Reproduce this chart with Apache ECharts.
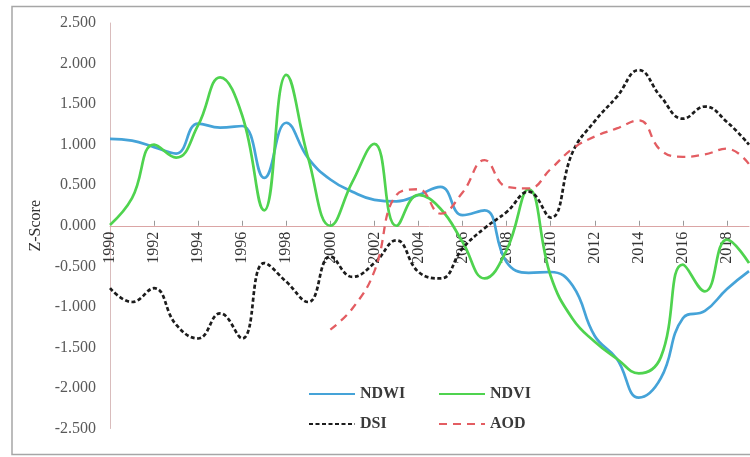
<!DOCTYPE html>
<html>
<head>
<meta charset="utf-8">
<script src="https://cdn.jsdelivr.net/npm/echarts@6/dist/echarts.min.js"></script>
<style>
html,body{margin:0;padding:0;background:#fff;}
#c{width:750px;height:457px;}
</style>
</head>
<body>
<div id="c"></div>
<script>
// ---- data ----
const years = [1990,1991,1992,1993,1994,1995,1996,1997,1998,1999,
               2000,2001,2002,2003,2004,2005,2006,2007,2008,2009,
               2010,2011,2012,2013,2014,2015,2016,2017,2018,2019];
const ndwi = [1.07,1.05,0.97,0.89,1.26,1.21,1.23,0.59,1.27,0.83,
              0.57,0.42,0.32,0.30,0.38,0.48,0.13,0.19,-0.45,-0.58,
              -0.57,-0.74,-1.36,-1.64,-2.12,-1.88,-1.14,-1.05,-0.78,-0.56];
const ndvi = [0.01,0.34,1.00,0.84,1.24,1.83,1.36,0.19,1.86,0.83,
              0.00,0.54,1.01,0.00,0.38,0.21,-0.20,-0.65,-0.30,0.45,
              -0.62,-1.15,-1.43,-1.64,-1.82,-1.62,-0.48,-0.81,-0.17,-0.46];
const dsi  = [-0.77,-0.94,-0.77,-1.22,-1.39,-1.08,-1.39,-0.46,-0.69,-0.94,
              -0.38,-0.63,-0.46,-0.18,-0.57,-0.65,-0.28,-0.03,0.17,0.42,
              0.10,0.91,1.29,1.59,1.92,1.59,1.32,1.47,1.28,1.00];
const aod  = [null,null,null,null,null,null,null,null,null,null,
              -1.28,-1.02,-0.56,0.38,0.45,0.15,0.41,0.81,0.48,0.46,
              0.70,0.95,1.10,1.20,1.30,0.93,0.85,0.88,0.95,0.76];
const xTickLabels = [1990,1992,1994,1996,1998,2000,2002,2004,2006,2008,2010,2012,2014,2016,2018];
const yTicks = {min:-2.5, max:2.5, interval:0.5};

const pairs = arr => years.map((y,i)=>[y, arr[i]]);
const serif = '"Liberation Serif","Times New Roman",serif';

const gridTop = 23, gridBottom = 28.5, H = 457;
const plotH = H - gridTop - gridBottom;
// move the x axis (line, ticks, labels) up to the zero line
const zeroOffset = -plotH * (0 - yTicks.min) / (yTicks.max - yTicks.min);

const chart = echarts.init(document.getElementById('c'));
function legendItem(name, left, top){
  return {
    data:[name], left:left, top:top, itemWidth:46, itemHeight:14,
    selectedMode:false,
    itemStyle:{opacity:0},
    textStyle:{fontFamily:serif, fontWeight:'bold', fontSize:16, color:'#3a3a3a'}
  };
}
chart.setOption({
  animation:false,
  backgroundColor:'#fff',
  graphic:[{type:'rect', shape:{x:12, y:6.5, width:760, height:448},
            style:{fill:'none', stroke:'#a6a6a6', lineWidth:1.5}, silent:true}],
  grid:{left:110, right:1, top:gridTop, bottom:gridBottom, containLabel:false},
  legend:[
    legendItem('NDWI',303,381),
    legendItem('NDVI',433,381),
    legendItem('DSI',303,411),
    legendItem('AOD',433,411)
  ],
  xAxis:{
    type:'value', min:1990, max:2019, interval:2,
    position:'bottom', offset:zeroOffset,
    splitLine:{show:false},
    axisLine:{onZero:false, lineStyle:{color:'#dba5a5', width:1}},
    axisTick:{show:true, inside:true, length:5, lineStyle:{color:'#999'},
              customValues:xTickLabels.slice(1)},
    axisLabel:{rotate:90, margin:6, fontFamily:serif, fontSize:16, color:'#333',
               customValues:xTickLabels, formatter:v=>String(v)}
  },
  yAxis:{
    type:'value', min:yTicks.min, max:yTicks.max, interval:yTicks.interval,
    name:'Z-Score', nameLocation:'middle', nameGap:66,
    nameTextStyle:{fontFamily:serif, fontSize:16, color:'#333'},
    splitLine:{show:false},
    axisLine:{show:true, onZero:false, lineStyle:{color:'#d9bcbc', width:1}},
    axisTick:{show:false},
    axisLabel:{margin:14, fontFamily:serif, fontSize:16, color:'#595959',
               formatter:v=>v.toFixed(3)}
  },
  series:[
    {name:'NDWI', type:'line', data:pairs(ndwi), smooth:0.45, symbol:'none',
     lineStyle:{color:'#45a3d8', width:2.7}, itemStyle:{color:'#45a3d8'}},
    {name:'NDVI', type:'line', data:pairs(ndvi), smooth:0.45, symbol:'none',
     lineStyle:{color:'#4fd34f', width:2.7}, itemStyle:{color:'#4fd34f'}},
    {name:'DSI', type:'line', data:pairs(dsi), smooth:0.45, symbol:'none',
     lineStyle:{color:'#1c1c1c', width:2.7, type:[4,2.5]}, itemStyle:{color:'#1c1c1c'}},
    {name:'AOD', type:'line', data:pairs(aod), smooth:0.45, symbol:'none',
     lineStyle:{color:'#e35d62', width:2.3, type:[8,6]}, itemStyle:{color:'#e35d62'}}
  ]
});
</script>
</body>
</html>
